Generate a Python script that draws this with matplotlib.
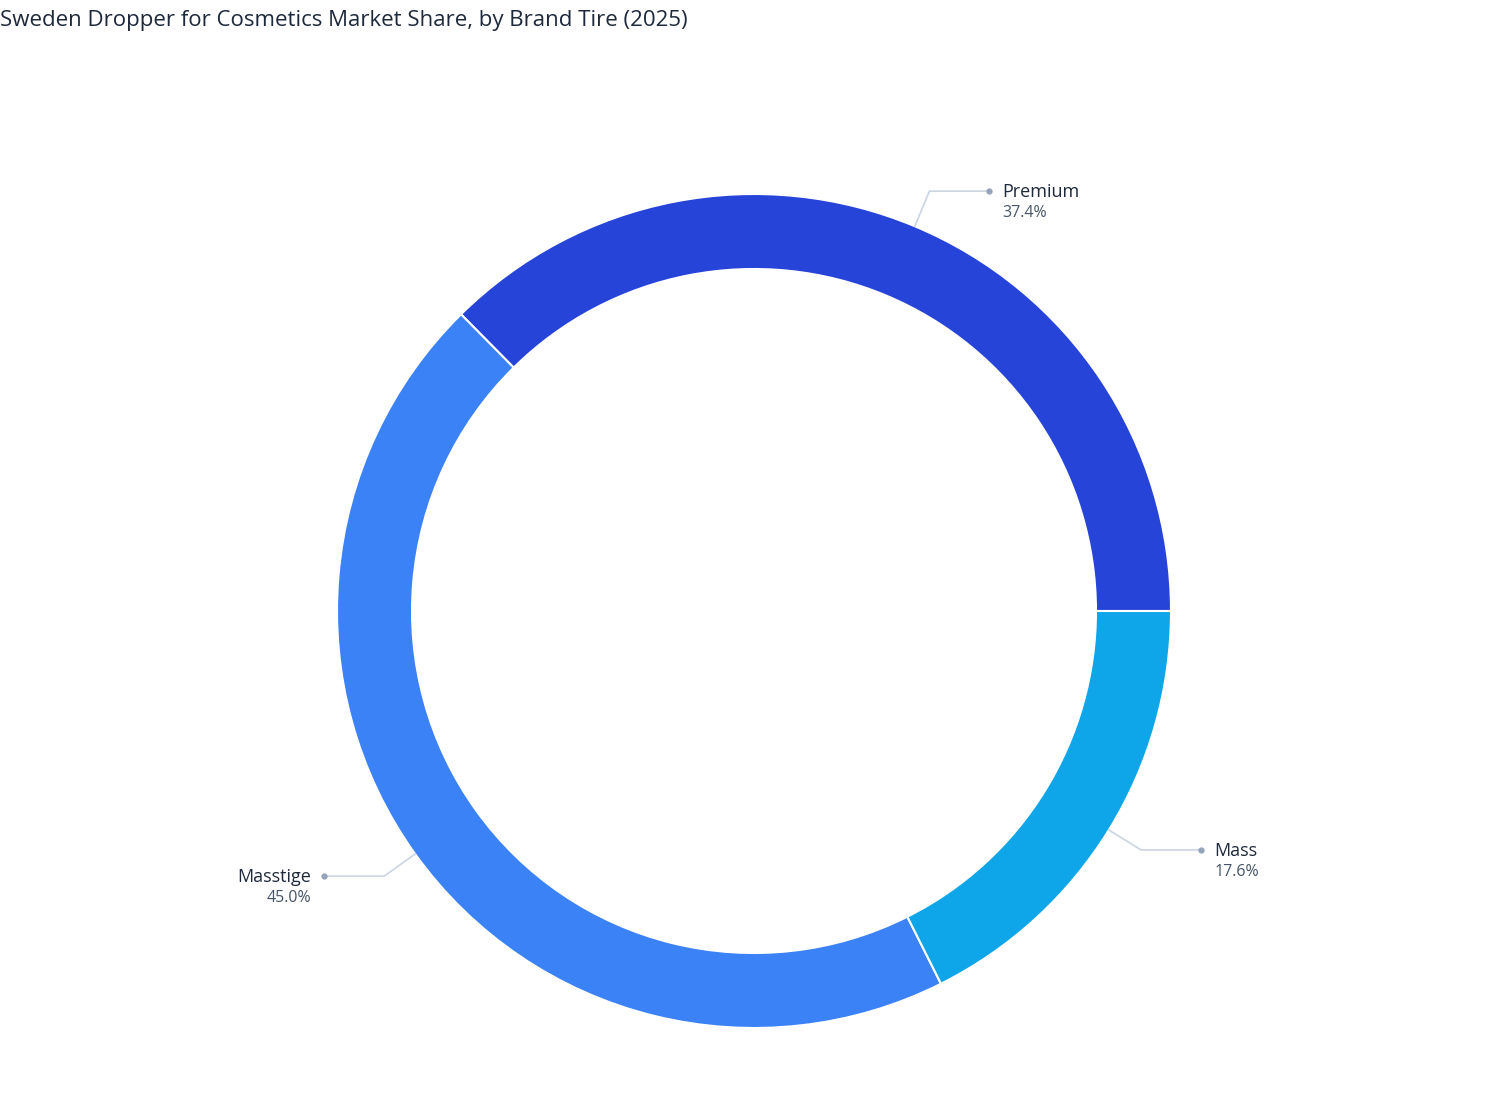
import numpy as np
import matplotlib.pyplot as plt

plt.rcParams['font.family'] = ['Open Sans', 'DejaVu Sans']

LABELS = ["Premium", "Masstige", "Mass"]
SHARES = [37.4, 45.0, 17.6]
COLORS = ["#2744D9", "#3B82F6", "#0EA5E9"]

W, H = 1508, 1120
CX, CY = 754, H - 611
R = 417

fig = plt.figure(figsize=(W / 100, H / 100), dpi=100)
ax = fig.add_axes([0, 0, 1, 1])
ax.set_xlim(0, W)
ax.set_ylim(0, H)
ax.set_aspect('equal')
ax.axis('off')

wedges, _ = ax.pie(SHARES, colors=COLORS, startangle=0, counterclock=True,
                   center=(CX, CY), radius=R, frame=True,
                   wedgeprops=dict(width=75, edgecolor='white', linewidth=1.5))
ax.set_xlim(0, W)
ax.set_ylim(0, H)
ax.axis('off')

for w, lab, val in zip(wedges, LABELS, SHARES):
    ang = np.deg2rad((w.theta1 + w.theta2) / 2)
    d = np.array([np.cos(ang), np.sin(ang)])
    p0 = np.array([CX, CY]) + R * d
    p1 = np.array([CX, CY]) + (R + 38) * d
    side = 1 if d[0] > 0 else -1
    p2 = p1 + np.array([side * 60, 0])
    ax.plot([p0[0], p1[0], p2[0]], [p0[1], p1[1], p2[1]], color='#cbd5e1', lw=1.2)
    ax.plot(p2[0], p2[1], 'o', color='#94a3b8', ms=3.5)
    ha = 'left' if side > 0 else 'right'
    tx = p2[0] + side * 13
    ax.text(tx, p2[1] - 1, lab, ha=ha, va='center', fontsize=13, color='#1e293b')
    ax.text(tx, p2[1] - 22, f"{val:.1f}%", ha=ha, va='center', fontsize=11.5, color='#475569')

fig.text(0.0, 0.982, "Sweden Dropper for Cosmetics Market Share, by Brand Tire (2025)",
         ha='left', va='center', fontsize=16, color='#1e293b')

fig.savefig("out.png", dpi=100)
